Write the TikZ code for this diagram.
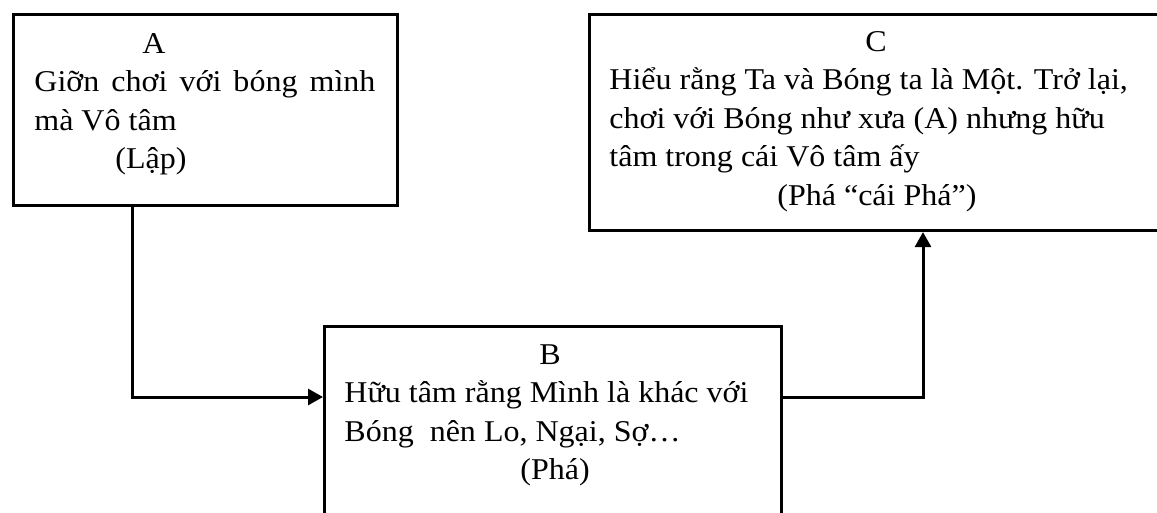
\documentclass[tikz,border=0pt]{standalone}
\usepackage{fontspec}
\setmainfont{Liberation Serif}[FakeStretch=1.06]
\usetikzlibrary{arrows.meta}

\tikzset{
  box/.style={draw, line width=1.5pt, inner sep=0pt, anchor=north west},
  txt/.style={inner sep=0pt, anchor=north west, align=left,
    font=\fontsize{15.1pt}{19.25pt}\selectfont},
  link/.style={line width=1.5pt, -{Triangle[length=7.5pt,width=8pt]}}
}

\begin{document}
\begin{tikzpicture}[x=0.5pt,y=-0.5pt]
  \clip (0,0) rectangle (1157,513);

  % the three stages
  \node[box, minimum width=192pt, minimum height=95.7pt] (A) at (12,12.7) {};
  \node[box, minimum width=300pt, minimum height=108.2pt] (C) at (588,12.7) {};
  \node[box, minimum width=228.5pt, minimum height=110pt] (B) at (323,325) {};

  \node[txt] (Atext) at (34,33) {%
    \hspace*{54pt}A\\
    \makebox[170.5pt][s]{Giỡn chơi với bóng mình}\\
    mà Vô tâm\\
    \hspace*{40.5pt}(Lập)};
  \node[txt] (Ctext) at (609,31) {%
    \hspace*{128pt}C\\
    Hiểu rằng Ta và Bóng ta là Một. Trở lại,\\
    chơi với Bóng như xưa (A) nhưng hữu\\
    tâm trong cái Vô tâm ấy\\
    \hspace*{84pt}(Phá “cái Phá”)};
  \node[txt] (Btext) at (344,344) {%
    \hspace*{97.5pt}B\\
    Hữu tâm rằng Mình là khác với\\
    Bóng\ \ nên Lo, Ngại, Sợ…\\
    \hspace*{88pt}(Phá)};

  % connectors
  \draw[link] ([xshift=60pt]A.south west) |- ([yshift=-36pt]B.north west);
  \draw[link] ([yshift=-36pt]B.north east) -| ([xshift=167.5pt]C.south west);
\end{tikzpicture}
\end{document}
